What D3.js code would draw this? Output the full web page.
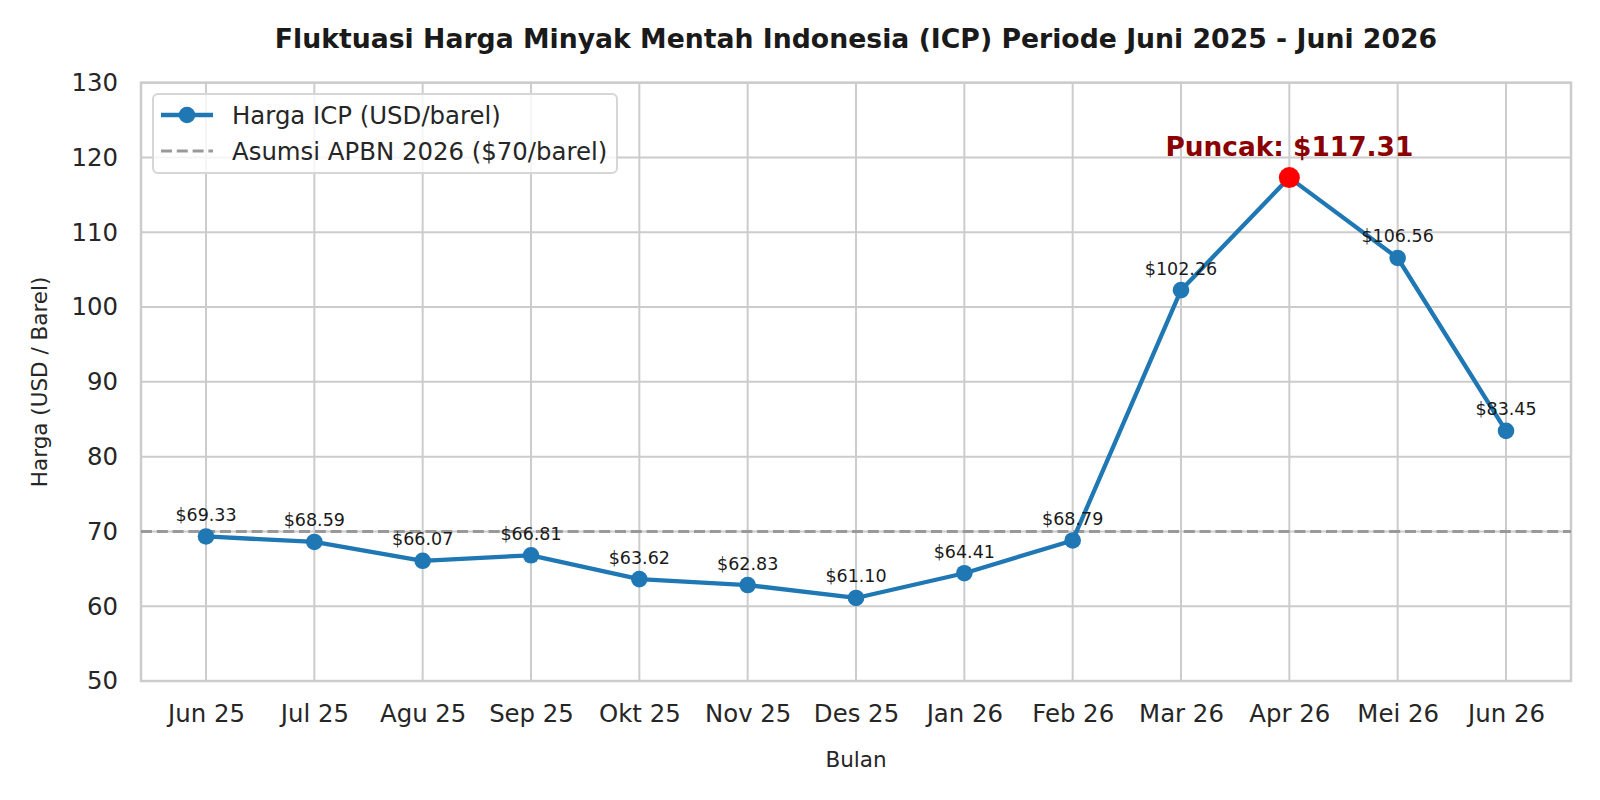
<!DOCTYPE html>
<meta charset="utf-8">
<title>Fluktuasi Harga ICP</title>
<style>
    body { margin: 0; background: #fff; }
    text { font-family: "DejaVu Sans", sans-serif; }
</style>
<svg width="1600" height="800"></svg>
<script src="https://cdn.jsdelivr.net/npm/d3@7/dist/d3.min.js"></script>
<script>

    var months = ["Jun 25", "Jul 25", "Agu 25", "Sep 25", "Okt 25", "Nov 25", "Des 25",
                  "Jan 26", "Feb 26", "Mar 26", "Apr 26", "Mei 26", "Jun 26"];
    var prices = [69.33, 68.59, 66.07, 66.81, 63.62, 62.83, 61.10,
                  64.41, 68.79, 102.26, 117.31, 106.56, 83.45];
    var yTicks = [50, 60, 70, 80, 90, 100, 110, 120, 130];
    var asumsi = 70;

    var svg = d3.select("svg"),
        margin = {top: 82.7, right: 29, bottom: 119, left: 141},
        width = 1600 - margin.left - margin.right,
        height = 800 - margin.top - margin.bottom;

    var x = d3.scaleLinear()
        .domain([-0.6, months.length - 1 + 0.6])
        .range([0, width]);

    var y = d3.scaleLinear()
        .domain([50, 130])
        .range([height, 0]);

    var g = svg.append("g")
        .attr("transform", "translate(" + margin.left + "," + margin.top + ")");

    // grid
    g.append("g").selectAll("line")
        .data(d3.range(months.length))
        .enter().append("line")
        .attr("x1", function(d) { return x(d); })
        .attr("x2", function(d) { return x(d); })
        .attr("y1", 0).attr("y2", height)
        .attr("stroke", "#cccccc").attr("stroke-width", 2);

    g.append("g").selectAll("line")
        .data(yTicks)
        .enter().append("line")
        .attr("x1", 0).attr("x2", width)
        .attr("y1", function(d) { return y(d); })
        .attr("y2", function(d) { return y(d); })
        .attr("stroke", "#cccccc").attr("stroke-width", 2);

    // axes (labels only, seaborn style has no tick marks)
    var xAxis = g.append("g")
        .attr("transform", "translate(0," + height + ")")
        .call(d3.axisBottom(x).tickValues(d3.range(months.length))
            .tickFormat(function(i) { return months[i]; }).tickSize(0).tickPadding(24));
    xAxis.select(".domain").remove();
    xAxis.selectAll("text")
        .attr("font-size", 24.4).attr("fill", "#262626")
        .attr("font-family", "DejaVu Sans");

    var yAxis = g.append("g")
        .call(d3.axisLeft(y).tickValues(yTicks).tickSize(0).tickPadding(23));
    yAxis.select(".domain").remove();
    yAxis.selectAll("text")
        .attr("font-size", 24.4).attr("fill", "#262626")
        .attr("font-family", "DejaVu Sans");

    // spines
    g.append("rect")
        .attr("width", width).attr("height", height)
        .attr("fill", "none").attr("stroke", "#cccccc").attr("stroke-width", 2.5);

    // asumsi line
    g.append("line")
        .attr("x1", 0).attr("x2", width)
        .attr("y1", y(asumsi)).attr("y2", y(asumsi))
        .attr("stroke", "#999999").attr("stroke-width", 3)
        .attr("stroke-dasharray", "11,4.8");

    var line = d3.line()
        .x(function(d, i) { return x(i); })
        .y(function(d) { return y(d); });

    g.append("path")
        .datum(prices)
        .attr("d", line)
        .attr("fill", "none")
        .attr("stroke", "#1f77b4")
        .attr("stroke-width", 4.3)
        .attr("stroke-linejoin", "round");

    g.selectAll(".dot")
        .data(prices)
        .enter().append("circle")
        .attr("class", "dot")
        .attr("cx", function(d, i) { return x(i); })
        .attr("cy", function(d) { return y(d); })
        .attr("r", 8.3)
        .attr("fill", "#1f77b4");

    var peak = d3.maxIndex(prices);

    g.selectAll(".lbl")
        .data(prices)
        .enter().filter(function(d, i) { return i !== peak; })
        .append("text")
        .attr("class", "lbl")
        .attr("x", function(d, i) { return x(prices.indexOf(d)); })
        .attr("y", function(d) { return y(d) - 15.5; })
        .attr("text-anchor", "middle")
        .attr("font-size", 17.5)
        .attr("fill", "#1a1a1a")
        .text(function(d) { return "$" + d.toFixed(2); });

    g.append("circle")
        .attr("cx", x(peak)).attr("cy", y(prices[peak]))
        .attr("r", 10.5).attr("fill", "#ff0000");

    g.append("text")
        .attr("x", x(peak)).attr("y", y(prices[peak]) - 22)
        .attr("text-anchor", "middle")
        .attr("font-size", 26.4).attr("font-weight", "bold")
        .attr("fill", "#8b0000")
        .text("Puncak: $" + prices[peak].toFixed(2));

    // legend
    var lg = svg.append("g").attr("transform", "translate(153,94)");
    lg.append("rect")
        .attr("width", 464).attr("height", 79).attr("rx", 5)
        .attr("fill", "#ffffff").attr("fill-opacity", 0.8)
        .attr("stroke", "#d6d6d6").attr("stroke-width", 2);
    lg.append("line")
        .attr("x1", 8).attr("x2", 60).attr("y1", 21).attr("y2", 21)
        .attr("stroke", "#1f77b4").attr("stroke-width", 4.3);
    lg.append("circle")
        .attr("cx", 34).attr("cy", 21).attr("r", 8.3).attr("fill", "#1f77b4");
    lg.append("line")
        .attr("x1", 8).attr("x2", 60).attr("y1", 57).attr("y2", 57)
        .attr("stroke", "#999999").attr("stroke-width", 3)
        .attr("stroke-dasharray", "11,4.8");
    lg.append("text")
        .attr("x", 79).attr("y", 29.5)
        .attr("font-size", 24.4).attr("fill", "#262626")
        .text("Harga ICP (USD/barel)");
    lg.append("text")
        .attr("x", 79).attr("y", 65.5)
        .attr("font-size", 24.4).attr("fill", "#262626")
        .text("Asumsi APBN 2026 ($70/barel)");

    // title and axis labels
    svg.append("text")
        .attr("x", margin.left + width / 2).attr("y", 48)
        .attr("text-anchor", "middle")
        .attr("font-size", 26.7).attr("font-weight", "bold")
        .attr("fill", "#1a1a1a")
        .text("Fluktuasi Harga Minyak Mentah Indonesia (ICP) Periode Juni 2025 - Juni 2026");

    svg.append("text")
        .attr("x", margin.left + width / 2).attr("y", 766.5)
        .attr("text-anchor", "middle")
        .attr("font-size", 21.5).attr("fill", "#262626")
        .text("Bulan");

    svg.append("text")
        .attr("transform", "translate(47," + (margin.top + height / 2) + ")rotate(-90)")
        .attr("text-anchor", "middle")
        .attr("font-size", 21.5).attr("fill", "#262626")
        .text("Harga (USD / Barel)");

</script>
